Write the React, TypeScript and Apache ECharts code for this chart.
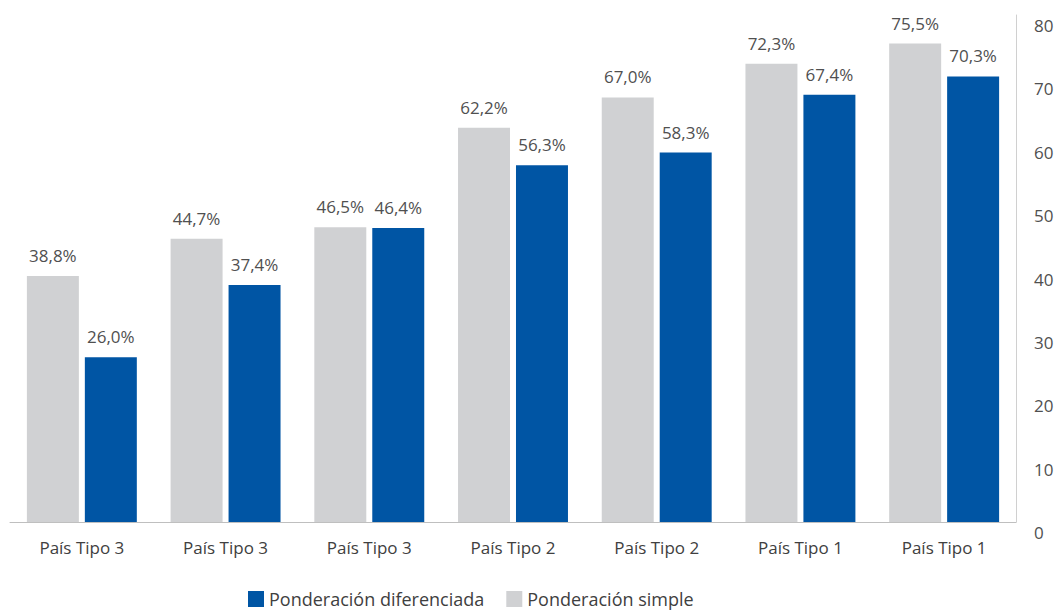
import React, { useEffect, useRef } from "react";
import * as echarts from "echarts";

const categories = ["País Tipo 3", "País Tipo 3", "País Tipo 3", "País Tipo 2", "País Tipo 2", "País Tipo 1", "País Tipo 1"];
const simpleValues = [38.8, 44.7, 46.5, 62.2, 67.0, 72.3, 75.5];
const diferenciadaValues = [26.0, 37.4, 46.4, 56.3, 58.3, 67.4, 70.3];
const seriesNames = ["Ponderación diferenciada", "Ponderación simple"];

const FONT = "'Open Sans', 'Noto Sans', sans-serif";
const TEXT = "#404040";

export default function App() {
  const ref = useRef<HTMLDivElement>(null);
  useEffect(() => {
    document.body.style.margin = "0";
    const chart = echarts.init(ref.current!, null, { renderer: "svg" });
    const label = {
      show: true,
      position: "top" as const,
      distance: 12,
      color: "#505050",
      fontFamily: FONT,
      fontSize: 17,
      formatter: (p: any) => p.value.toFixed(1).replace(".", ",") + "%",
    };
    chart.setOption({
      animation: false,
      textStyle: { fontFamily: FONT },
      grid: { left: 10, right: 41, top: 15, bottom: 88, containLabel: false },
      legend: {
        data: seriesNames,
        left: 243,
        top: 588,
        padding: [2, 5, 2, 5],
        icon: "rect",
        itemWidth: 16,
        itemHeight: 16,
        itemGap: 22,
        textStyle: { color: TEXT, fontSize: 18, fontFamily: FONT },
      },
      xAxis: {
        type: "category",
        data: categories,
        axisLine: { show: true, lineStyle: { color: "#BFBFBF", width: 1 } },
        axisTick: { show: false },
        axisLabel: { color: TEXT, fontSize: 17, margin: 17, fontFamily: FONT },
      },
      yAxis: {
        type: "value",
        position: "right",
        min: 0,
        max: 80,
        interval: 10,
        splitLine: { show: false },
        axisLine: { show: true, lineStyle: { color: "#D0D0D0", width: 1 } },
        axisTick: { show: false },
        axisLabel: {
          color: "#505050",
          fontSize: 17,
          margin: 18,
          verticalAlign: "top",
          padding: [2, 0, 0, 0],
          fontFamily: FONT,
        },
      },
      series: [
        {
          name: seriesNames[1],
          type: "bar",
          data: simpleValues,
          itemStyle: { color: "#D0D1D3" },
          barGap: "11.5%",
          barCategoryGap: "23.5%",
          label,
        },
        {
          name: seriesNames[0],
          type: "bar",
          data: diferenciadaValues,
          itemStyle: { color: "#0055A4" },
          barGap: "11.5%",
          barCategoryGap: "23.5%",
          label,
        },
      ],
    });
    return () => chart.dispose();
  }, []);
  return <div ref={ref} style={{ width: 1057, height: 610 }} />;
}
